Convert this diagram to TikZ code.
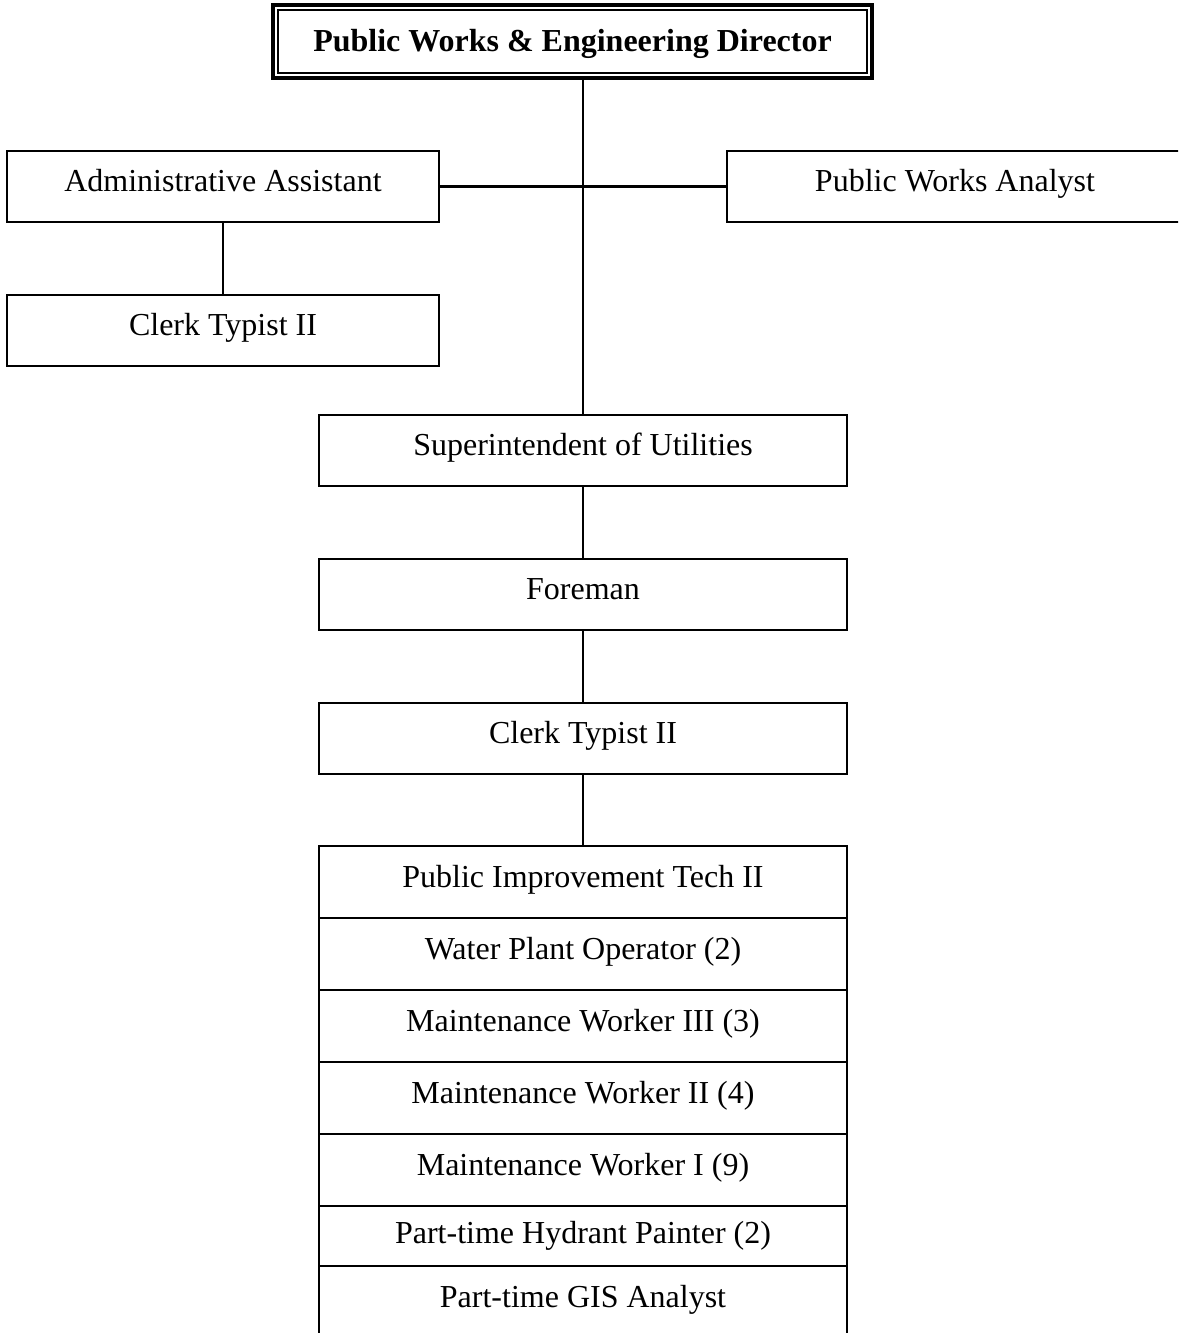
\documentclass[tikz,border=0pt]{standalone}
\usepackage{fontspec}
\setmainfont{Liberation Serif}
\usetikzlibrary{calc,positioning}

\begin{document}
\begin{tikzpicture}[x=0.5pt,y=-0.5pt,font=\fontsize{16}{19}\selectfont,
    box/.style={draw,line width=1.2pt,outer sep=0pt,inner sep=0pt,
      text height=.7em,text depth=.2em,minimum height=35.5pt},
    wide/.style={box,minimum width=264pt},
    row/.style={wide,minimum height=36pt},
    link/.style={line width=1.2pt}]
  \useasboundingbox (0,0) rectangle (1178,1333);
  \clip (0,0) rectangle (1178,1333);
  % director
  \node[box,line width=2pt,minimum width=299.5pt,minimum height=36.5pt,
    text height=1em,text depth=0pt]
    (director) at (572.5,41.5) {\textbf{Public Works \& Engineering Director}};
  \draw[line width=0.8pt] ($(director.north west)+(5,5)$)
    rectangle ($(director.south east)+(-5,-5)$);
  % staff
  \node[box,minimum width=216pt] (admin) at (223,186.5) {Administrative Assistant};
  \node[box,minimum width=228pt] (analyst) at (955,186.5) {Public Works Analyst};
  \node[box,minimum width=216pt] (clerkA) at (223,330.5) {Clerk Typist II};
  % utilities
  \node[wide] (super) at (583,450.5) {Superintendent of Utilities};
  \node[wide] (foreman) at (583,594.5) {Foreman};
  \node[wide] (clerkB) at (583,738.5) {Clerk Typist II};
  % crew
  \node[row] (tech) at (583,882) {Public Improvement Tech II};
  \node[row,below=0pt of tech] (plant) {Water Plant Operator (2)};
  \node[row,below=0pt of plant] (workerC) {Maintenance Worker III (3)};
  \node[row,below=0pt of workerC] (workerB) {Maintenance Worker II (4)};
  \node[row,below=0pt of workerB] (workerA) {Maintenance Worker I (9)};
  \node[row,minimum height=30pt,text depth=0pt,below=0pt of workerA]
    (hydrant) {Part-time Hydrant Painter (2)};
  \node[row,below=0pt of hydrant] (gis) {Part-time GIS Analyst};
  % lines
  \draw[link] (director.south -| super.north) -- (super.north);
  \draw[link] (admin.east) -- (analyst.west);
  \draw[link] (admin.south) -- (clerkA.north);
  \draw[link] (super.south) -- (foreman.north);
  \draw[link] (foreman.south) -- (clerkB.north);
  \draw[link] (clerkB.south) -- (tech.north);
\end{tikzpicture}
\end{document}
